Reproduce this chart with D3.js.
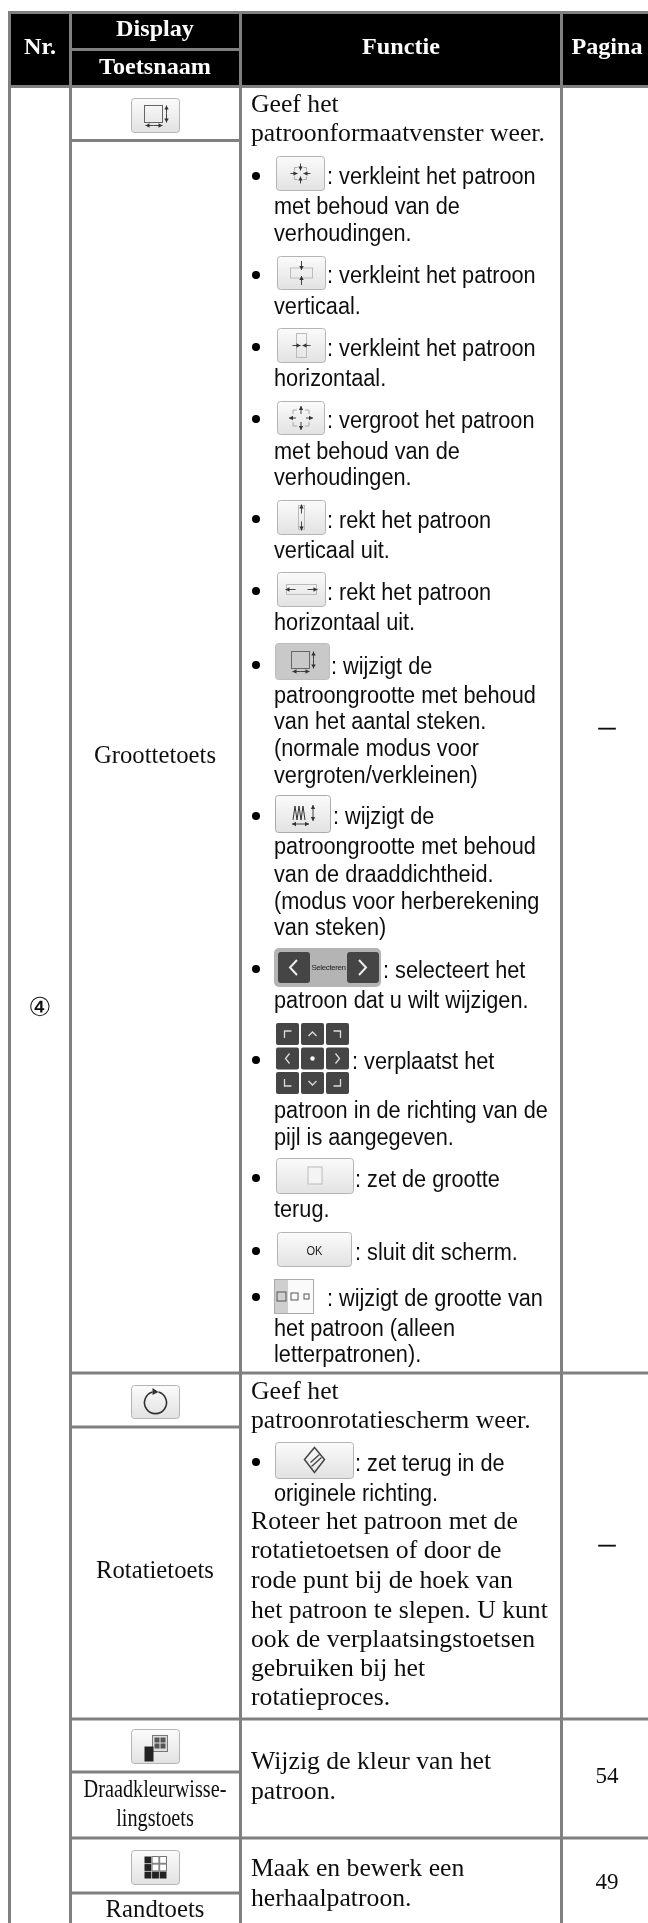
<!DOCTYPE html>
<html lang="nl">
<head>
    <meta charset="UTF-8">
    <title>Toetsen tabel</title>
    <script src="https://d3js.org/d3.v7.min.js"></script>
    <style>
        html, body { margin: 0; padding: 0; background: #fff; }
        svg { display: block; }
    </style>
</head>
<body>
    <script>
        // table content
        var headerLabels = ["Nr.", "Display", "Toetsnaam", "Functie", "Pagina"];
        var rowNumber = "④";
        var keyNames = ["Groottetoets", "Rotatietoets", "Draadkleurwisse-", "lingstoets", "Randtoets"];
        var pageNumbers = ["—", "—", "54", "49"];

        var serifLines = ["Geef het", "patroonformaatvenster weer.",
            "Geef het", "patroonrotatiescherm weer.",
            "Roteer het patroon met de", "rotatietoetsen of door de", "rode punt bij de hoek van",
            "het patroon te slepen. U kunt", "ook de verplaatsingstoetsen", "gebruiken bij het", "rotatieproces.",
            "Wijzig de kleur van het", "patroon.",
            "Maak en bewerk een", "herhaalpatroon."];

        var sansLines = [": verkleint het patroon", "met behoud van de", "verhoudingen.",
            ": verkleint het patroon", "verticaal.",
            ": verkleint het patroon", "horizontaal.",
            ": vergroot het patroon", "met behoud van de", "verhoudingen.",
            ": rekt het patroon", "verticaal uit.",
            ": rekt het patroon", "horizontaal uit.",
            ": wijzigt de", "patroongrootte met behoud", "van het aantal steken.", "(normale modus voor", "vergroten/verkleinen)",
            ": wijzigt de", "patroongrootte met behoud", "van de draaddichtheid.", "(modus voor herberekening", "van steken)",
            ": selecteert het", "patroon dat u wilt wijzigen.",
            ": verplaatst het", "patroon in de richting van de", "pijl is aangegeven.",
            ": zet de grootte", "terug.",
            ": sluit dit scherm.",
            ": wijzigt de grootte van", "het patroon (alleen", "letterpatronen).",
            ": zet terug in de", "originele richting."];

        // layout
        var width = 648, height = 1923;
        var columns = ["left", "key", "func", "page"];
        var colX = d3.scaleOrdinal(columns, [9.5, 70.5, 240.5, 561.5]);
        var colMid = d3.scaleOrdinal(columns, [40, 155, 401, 607]);

        var serifY = [112, 141, 1399, 1428, 1529, 1558, 1588, 1618, 1647, 1676, 1705, 1769, 1799, 1876, 1906];
        var sansY = [184, 214, 241, 283, 314, 356, 386, 428, 459, 485, 528, 558, 600, 630, 674, 703, 729, 756, 783,
            824, 854, 882, 909, 935, 978, 1008, 1069, 1118, 1145, 1187, 1217, 1260, 1306, 1336, 1362, 1471, 1501];
        var sansX = [327, 274, 274, 327, 274, 327, 274, 327, 274, 274, 327, 274, 327, 274, 331, 274, 274, 274, 274,
            333, 274, 274, 274, 274, 383, 274, 352, 274, 274, 355, 274, 355, 327, 274, 274, 355, 274];
        var bulletY = [176, 275, 347, 419, 519, 591, 665, 816, 969, 1060, 1178, 1251, 1297, 1462];
        var keyY = [763, 1578, 1797, 1826, 1917];
        var pageY = [733, 1550, 1783, 1889];

        var svg = d3.select("body").append("svg").attr("width", width).attr("height", height);
        var defs = svg.append("defs");
        var soft = defs.append("filter").attr("id", "soft").attr("x", 0).attr("y", 0).attr("width", 1).attr("height", 1)
            .attr("filterUnits", "objectBoundingBox");
        soft.append("feGaussianBlur").attr("stdDeviation", 0.35);
        var grad = defs.append("linearGradient").attr("id", "btn").attr("x1", 0).attr("y1", 0).attr("x2", 0).attr("y2", 1);
        grad.append("stop").attr("offset", 0).attr("stop-color", "#fbfbfb");
        grad.append("stop").attr("offset", 1).attr("stop-color", "#e2e2e2");

        var root = svg.append("g").attr("filter", "url(#soft)");
        root.append("rect").attr("width", width).attr("height", height).attr("fill", "#fff");

        // header band
        root.append("rect").attr("x", 9).attr("y", 12).attr("width", width - 9).attr("height", 74).attr("fill", "#000");

        // measure a string so a style can be stretched to the width it has on the page
        function stretch(family, size, weight, str, target) {
            var t = svg.append("text").attr("font-family", family).attr("font-size", size).attr("font-weight", weight).text(str);
            var w = t.node().getComputedTextLength();
            t.remove();
            return target / w;
        }
        var serifFont = "'Liberation Serif'", sansFont = "'Liberation Sans'";
        var styles = {
            serif: { family: serifFont, size: 26, weight: 400, fill: "#111", sx: stretch(serifFont, 26, 400, "patroonformaatvenster weer.", 294) },
            sans: { family: sansFont, size: 23.5, weight: 400, fill: "#111", sx: stretch(sansFont, 23.5, 400, "patroongrootte met behoud", 262) },
            head: { family: serifFont, size: 24, weight: 700, fill: "#fff", sx: stretch(serifFont, 24, 700, "Toetsnaam", 112) },
            key: { family: serifFont, size: 25, weight: 400, fill: "#111", sx: stretch(serifFont, 25, 400, "Rotatietoets", 118) },
            keySmall: { family: serifFont, size: 26, weight: 400, fill: "#111", sx: stretch(serifFont, 26, 400, "Draadkleurwisse-", 143) },
            page: { family: serifFont, size: 23, weight: 400, fill: "#111", sx: 1 },
            dash: { family: serifFont, size: 17, weight: 700, fill: "#111", sx: 1 }
        };

        function put(x, y, str, style, anchor) {
            var s = styles[style];
            return root.append("text")
                .attr("transform", "translate(" + x + "," + y + ") scale(" + s.sx + ",1)")
                .attr("text-anchor", anchor || "start")
                .attr("font-family", s.family).attr("font-size", s.size).attr("font-weight", s.weight)
                .attr("fill", s.fill).text(str);
        }

        // texts
        put(colMid("left"), 54, headerLabels[0], "head", "middle");
        put(colMid("key"), 36, headerLabels[1], "head", "middle");
        put(colMid("key"), 74, headerLabels[2], "head", "middle");
        put(colMid("func"), 54, headerLabels[3], "head", "middle");
        put(colMid("page"), 54, headerLabels[4], "head", "middle");

        serifLines.forEach(function (d, i) { put(251, serifY[i], d, "serif"); });
        sansLines.forEach(function (d, i) { put(sansX[i], sansY[i], d, "sans"); });
        keyNames.forEach(function (d, i) { put(colMid("key"), keyY[i], d, (i == 2 || i == 3) ? "keySmall" : "key", "middle"); });
        pageNumbers.forEach(function (d, i) {
            var t = put(colMid("page"), pageY[i], d, i < 2 ? "dash" : "page", "middle");
            if (i < 2) t.attr("stroke", "#111").attr("stroke-width", .6);
        });

        root.append("text").attr("x", colMid("left")).attr("y", 1016).attr("text-anchor", "middle")
            .attr("font-family", "'DejaVu Sans'").attr("font-size", 26).attr("fill", "#111").text(rowNumber);

        root.selectAll("circle.bullet").data(bulletY).enter().append("circle").attr("class", "bullet")
            .attr("cx", 256).attr("cy", function (d) { return d; }).attr("r", 4).attr("fill", "#000");

        // grid lines
        var grey = "#808080";
        var vLines = columns;
        root.selectAll("line.v").data(vLines).enter().append("line").attr("class", "v")
            .attr("x1", colX).attr("x2", colX).attr("y1", 11).attr("y2", height)
            .attr("stroke", grey).attr("stroke-width", 3);
        var fullRules = [12.5, 86.5, 1373, 1719, 1838];
        root.selectAll("line.h").data(fullRules).enter().append("line").attr("class", "h")
            .attr("x1", function (d) { return d == 12.5 || d == 86.5 ? 8 : 70; }).attr("x2", width)
            .attr("y1", function (d) { return d; }).attr("y2", function (d) { return d; })
            .attr("stroke", grey).attr("stroke-width", 3);
        var keyRules = [49.5, 140.5, 1427, 1772, 1893];
        root.selectAll("line.k").data(keyRules).enter().append("line").attr("class", "k")
            .attr("x1", colX("key")).attr("x2", colX("func"))
            .attr("y1", function (d) { return d; }).attr("y2", function (d) { return d; })
            .attr("stroke", grey).attr("stroke-width", 3);

        // key pictures
        function btn(x0, y0, x1, y1, fill, edge) {
            root.append("rect").attr("x", x0 + .5).attr("y", y0 + .5).attr("width", x1 - x0 - 1).attr("height", y1 - y0 - 1)
                .attr("rx", 3).attr("fill", fill || "url(#btn)").attr("stroke", edge || "#b4b4b4").attr("stroke-width", 1);
            return root.append("g").attr("transform", "translate(" + (x0 + x1) / 2 + "," + (y0 + y1) / 2 + ")");
        }
        function shape(g, d, color, w) {
            return g.append("path").attr("d", d).attr("fill", "none").attr("stroke", color || "#555").attr("stroke-width", w || 1);
        }
        function arrow(g, x1, y1, x2, y2) {
            var a = Math.atan2(y2 - y1, x2 - x1), c = Math.cos(a), s = Math.sin(a);
            shape(g, "M" + x1 + " " + y1 + "L" + x2 + " " + y2, "#444");
            g.append("path").attr("fill", "#333")
                .attr("d", "M" + x2 + " " + y2 + "L" + (x2 - 4 * c - 2.2 * s) + " " + (y2 - 4 * s + 2.2 * c) + "L" + (x2 - 4 * c + 2.2 * s) + " " + (y2 - 4 * s - 2.2 * c) + "Z");
        }
        function sizeIcon(g) {
            g.append("rect").attr("x", -11).attr("y", -10).attr("width", 18).attr("height", 17).attr("fill", "none").attr("stroke", "#666");
            arrow(g, 11, -2, 11, -10); arrow(g, 11, -2, 11, 7);
            arrow(g, -2, 10, -10, 10); arrow(g, -2, 10, 7, 10);
        }

        var g;
        g = btn(131, 98, 180, 133); sizeIcon(g);

        g = btn(276, 156, 325, 191);   // shrink all
        shape(g, "M-6 -6h3M3 -6h3v3M6 3v3h-3M-3 6h-3v-3M-6 -3v-3", "#aaa");
        arrow(g, 0, -10, 0, -3); arrow(g, 0, 10, 0, 3); arrow(g, -10, 0, -3, 0); arrow(g, 10, 0, 3, 0);

        g = btn(277, 256, 326, 290);   // shrink vertical
        g.append("rect").attr("x", -11).attr("y", -5).attr("width", 22).attr("height", 10).attr("fill", "none").attr("stroke", "#bbb");
        arrow(g, 0, -12, 0, -3); arrow(g, 0, 12, 0, 3);

        g = btn(277, 328, 326, 363);   // shrink horizontal
        g.append("rect").attr("x", -5).attr("y", -12).attr("width", 10).attr("height", 24).attr("fill", "none").attr("stroke", "#bbb");
        arrow(g, -9, 0, -1, 0); arrow(g, 9, 0, 1, 0);

        g = btn(277, 401, 325, 435);   // enlarge all
        shape(g, "M-8 -8h4M4 -8h4v4M8 4v4h-4M-4 8h-4v-4M-8 -4v-4", "#aaa");
        arrow(g, 0, -4, 0, -12); arrow(g, 0, 4, 0, 12); arrow(g, -5, 0, -12, 0); arrow(g, 5, 0, 12, 0);

        g = btn(277, 500, 326, 535);   // stretch vertical
        g.append("rect").attr("x", -3).attr("y", -12).attr("width", 6).attr("height", 24).attr("fill", "none").attr("stroke", "#bbb");
        arrow(g, 0, -4, 0, -13); arrow(g, 0, 4, 0, 13);

        g = btn(277, 572, 326, 607);   // stretch horizontal
        g.append("rect").attr("x", -15).attr("y", -5).attr("width", 30).attr("height", 10).attr("fill", "none").attr("stroke", "#bbb");
        arrow(g, -6, 0, -16, 0); arrow(g, 6, 0, 16, 0);

        g = btn(275, 643, 330, 680, "#c9c9c9", "#bdbdbd"); sizeIcon(g);

        g = btn(275, 795, 331, 833, "url(#btn)", "#aaa");
        shape(g, "M-10 6L-8 -8L-6 6L-4 -8L-2 6L0 -8L2 6", "#333");
        arrow(g, 10, -1, 10, -9); arrow(g, 10, -1, 10, 7);
        arrow(g, -3, 10, -11, 10); arrow(g, -3, 10, 6, 10);

        // selecteer strip
        var dark = "#444";
        root.append("rect").attr("x", 274).attr("y", 948).attr("width", 107).attr("height", 39).attr("rx", 5).attr("fill", "#b4b4b4");
        [278, 347].forEach(function (bx, i) {
            root.append("rect").attr("x", bx).attr("y", 952).attr("width", 32).attr("height", 31).attr("rx", 3).attr("fill", dark);
            shape(root, i == 0 ? "M297 960L290 967.5L297 975" : "M359 960L366 967.5L359 975", "#eee", 2);
        });
        root.append("text").attr("x", 328.5).attr("y", 970).attr("text-anchor", "middle")
            .attr("font-family", sansFont).attr("font-size", 8).attr("letter-spacing", -.4).attr("fill", "#222").text("Selecteren");

        // verplaats pad
        var padX = d3.scaleBand().domain([0, 1, 2]).range([276, 349]).paddingInner(0.08);
        var padY = d3.scaleBand().domain([0, 1, 2]).range([1023, 1094]).paddingInner(0.1);
        var padMarks = ["M-3 4V-3H4", "M-4 2L0 -2L4 2", "M-4 -3H3V4",
            "M2 -5L-2 0L2 5", "", "M-2 -5L2 0L-2 5",
            "M-3 -4V3H4", "M-4 -2L0 2L4 -2", "M-4 3H3V-4"];
        padMarks.forEach(function (m, i) {
            var cx = padX(i % 3), cy = padY(Math.floor(i / 3));
            root.append("rect").attr("x", cx).attr("y", cy).attr("width", padX.bandwidth()).attr("height", padY.bandwidth()).attr("rx", 2).attr("fill", dark);
            var p = root.append("g").attr("transform", "translate(" + (cx + padX.bandwidth() / 2) + "," + (cy + padY.bandwidth() / 2) + ")");
            if (m) shape(p, m, "#ddd", 1.3);
            else p.append("circle").attr("r", 2.2).attr("fill", "#fff");
        });

        g = btn(276, 1158, 354, 1194);   // reset size
        g.append("rect").attr("x", -7).attr("y", -9).attr("width", 14).attr("height", 17).attr("fill", "#f4f4f4").attr("stroke", "#bbb");

        g = btn(277, 1232, 352, 1267);   // ok
        g.append("text").attr("transform", "scale(.85,1)").attr("y", 5).attr("text-anchor", "middle").attr("font-family", sansFont).attr("font-size", 13).attr("fill", "#222").text("OK");

        // letter size strip
        root.append("rect").attr("x", 274.5).attr("y", 1279.5).attr("width", 39).attr("height", 34).attr("fill", "#fafafa").attr("stroke", "#aaa");
        root.append("rect").attr("x", 275).attr("y", 1280).attr("width", 13).attr("height", 33).attr("fill", "#cfcfcf");
        root.append("rect").attr("x", 277).attr("y", 1292).attr("width", 9).attr("height", 9).attr("fill", "none").attr("stroke", "#555");
        root.append("rect").attr("x", 291).attr("y", 1293).attr("width", 7).attr("height", 7).attr("fill", "none").attr("stroke", "#555");
        root.append("rect").attr("x", 304).attr("y", 1294).attr("width", 5).attr("height", 5).attr("fill", "none").attr("stroke", "#555");

        g = btn(131, 1385, 180, 1419);   // rotate
        shape(g, "M-3 -10A11 11 0 1 0 3 -10", "#333", 1.6);
        g.append("path").attr("d", "M-3 -14L3 -10L-3 -7Z").attr("fill", "#333");

        g = btn(275, 1442, 354, 1479);   // rotate reset
        shape(g, "M0 -13L10 -1L0 12L-10 -1Z", "#444", 1.5);
        shape(g, "M-4 2L5 -6M-3 6L7 -3", "#444", 1.3);

        g = btn(131, 1729, 180, 1764);   // thread colour
        g.append("rect").attr("x", -3).attr("y", -11).attr("width", 15).attr("height", 16).attr("fill", "#ddd").attr("stroke", "#777");
        [[-1, -9], [5, -9], [-1, -3], [5, -3]].forEach(function (c) {
            g.append("rect").attr("x", c[0]).attr("y", c[1]).attr("width", 5).attr("height", 5).attr("fill", "#555");
        });
        g.append("rect").attr("x", -11).attr("y", 0).attr("width", 9).attr("height", 15).attr("fill", "#222");

        g = btn(131, 1850, 180, 1885);   // border
        var cellX = d3.scaleBand().domain([0, 1, 2]).range([-11, 11]).paddingInner(0.1);
        var cellY = d3.scaleBand().domain([0, 1, 2]).range([-11, 11]).paddingInner(0.1);
        [1, 0, 0, 1, 0, 0, 1, 1, 1].forEach(function (on, i) {
            g.append("rect").attr("x", cellX(i % 3)).attr("y", cellY(Math.floor(i / 3)))
                .attr("width", cellX.bandwidth()).attr("height", cellY.bandwidth())
                .attr("fill", on ? "#222" : "#fff").attr("stroke", on ? "none" : "#777");
        });
    </script>
</body>
</html>
